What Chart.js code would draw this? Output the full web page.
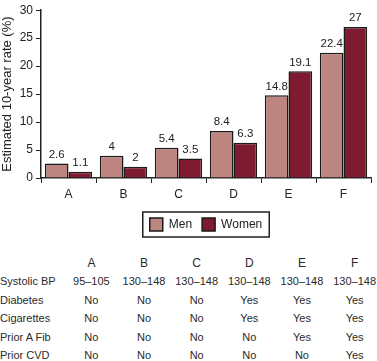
<!DOCTYPE html>
<html>
<head>
<meta charset="utf-8">
<script src="https://cdn.jsdelivr.net/npm/chart.js@4/dist/chart.umd.min.js"></script>
<style>
  html, body { margin: 0; padding: 0; background: #fff; }
  #wrap { position: relative; width: 377px; height: 361px; overflow: hidden; }
  #chartBox { position: absolute; left: 0; top: 0; width: 377px; height: 245px; }
  #riskTable {
    position: absolute; left: 0; top: 254px;
    border-collapse: collapse; table-layout: fixed; width: 381px;
    font-family: "Liberation Sans", Arial, sans-serif; font-size: 11px; color: #2a2a2a;
  }
  #riskTable td { padding: 0; height: 18.4px; line-height: 18.4px; text-align: center; white-space: nowrap; }
  #riskTable tr:first-child td { font-size: 12px; }
  #riskTable td.rowLabel { text-align: left; }
</style>
</head>
<body>
<div id="wrap">
  <div id="chartBox"><canvas id="riskChart"></canvas></div>
  <table id="riskTable">
    <colgroup>
      <col style="width:65px"><col style="width:52.6px"><col style="width:52.6px"><col style="width:52.6px">
      <col style="width:52.6px"><col style="width:52.6px"><col style="width:52.6px">
    </colgroup>
    <tbody id="riskBody"></tbody>
  </table>
</div>
<script>
// ====================
// DATOS
// ====================
const categories = ['A', 'B', 'C', 'D', 'E', 'F'];
const menRates = [2.6, 4, 5.4, 8.4, 14.8, 22.4];
const womenRates = [1.1, 2, 3.5, 6.3, 19.1, 27];

const rowLabels = ['Systolic BP', 'Diabetes', 'Cigarettes', 'Prior A Fib', 'Prior CVD'];
const systolicBP = ['95–105', '130–148', '130–148', '130–148', '130–148', '130–148'];
const diabetes = ['No', 'No', 'No', 'Yes', 'Yes', 'Yes'];
const cigarettes = ['No', 'No', 'No', 'Yes', 'Yes', 'Yes'];
const priorAFib = ['No', 'No', 'No', 'No', 'Yes', 'Yes'];
const priorCVD = ['No', 'No', 'No', 'No', 'No', 'Yes'];

const FONT = '"Liberation Sans", Arial, sans-serif';
const INK = '#222';

// valores encima de cada barra
const valueLabels = {
    id: 'valueLabels',
    afterDatasetsDraw(chart) {
        const ctx = chart.ctx;
        ctx.save();
        ctx.font = '11.5px ' + FONT;
        ctx.fillStyle = INK;
        ctx.textAlign = 'center';
        ctx.textBaseline = 'bottom';
        chart.data.datasets.forEach(function(ds, i) {
            chart.getDatasetMeta(i).data.forEach(function(bar, j) {
                ctx.fillText(String(ds.data[j]), bar.x, bar.y - 3);
            });
        });
        ctx.restore();
    }
};

// leyenda centrada bajo el área del gráfico, con marco
const legendFrame = {
    id: 'legendFrame',
    afterLayout(chart) {
        const lg = chart.legend;
        if (!lg) return;
        const shift = (chart.chartArea.left + chart.chartArea.right) / 2 - (lg.left + lg.right) / 2;
        lg.left += shift;
        lg.right += shift;
    },
    afterDraw(chart) {
        const boxes = chart.legend && chart.legend.legendHitBoxes;
        if (!boxes || !boxes.length) return;
        let x1 = Infinity, y1 = Infinity, x2 = -Infinity, y2 = -Infinity;
        boxes.forEach(function(b) {
            x1 = Math.min(x1, b.left);
            y1 = Math.min(y1, b.top);
            x2 = Math.max(x2, b.left + b.width);
            y2 = Math.max(y2, b.top + b.height);
        });
        const ctx = chart.ctx;
        ctx.save();
        ctx.strokeStyle = INK;
        ctx.lineWidth = 1.5;
        ctx.strokeRect(x1 - 7, y1 - 6, (x2 - x1) + 14, (y2 - y1) + 12);
        ctx.restore();
    }
};

new Chart(document.getElementById('riskChart'), {
    type: 'bar',
    data: {
        labels: categories,
        datasets: [{
            label: 'Men',
            data: menRates,
            backgroundColor: '#bc857f',
            borderColor: '#1a1a1a',
            borderWidth: 1.5
        }, {
            label: 'Women',
            data: womenRates,
            backgroundColor: '#7e1b30',
            borderColor: '#1a1a1a',
            borderWidth: 1.5
        }]
    },
    options: {
        responsive: true,
        maintainAspectRatio: false,
        animation: false,
        categoryPercentage: 0.86,
        barPercentage: 1.0,
        layout: { padding: { top: 0, right: 6, bottom: 4, left: 0 } },
        scales: {
            x: {
                border: { color: INK, width: 1.5 },
                grid: { drawOnChartArea: false, tickLength: 5, color: INK, lineWidth: 1 },
                ticks: { color: INK, font: { family: FONT, size: 12 }, padding: 4 },
                afterFit: function(scale) { scale.height = 30; }
            },
            y: {
                min: 0,
                max: 30,
                border: { color: INK, width: 1.5 },
                grid: { drawOnChartArea: false, tickLength: 5, color: INK, lineWidth: 1 },
                ticks: { stepSize: 5, color: INK, font: { family: FONT, size: 12 }, padding: 3 },
                title: {
                    display: true,
                    text: 'Estimated 10-year rate (%)',
                    color: INK,
                    font: { family: FONT, size: 13 },
                    padding: { top: 0, bottom: 2 }
                },
                afterFit: function(scale) { scale.width = 41; }
            }
        },
        plugins: {
            legend: {
                position: 'bottom',
                labels: {
                    color: INK,
                    font: { family: FONT, size: 12 },
                    boxWidth: 13,
                    boxHeight: 13,
                    padding: 10
                }
            },
            tooltip: { enabled: false }
        }
    },
    plugins: [valueLabels, legendFrame]
});

// ====================
// TABLA
// ====================
const tbody = document.getElementById('riskBody');
function addRow(label, cells) {
    const tr = document.createElement('tr');
    const th = document.createElement('td');
    th.className = 'rowLabel';
    th.textContent = label;
    tr.appendChild(th);
    cells.forEach(function(c) {
        const td = document.createElement('td');
        td.textContent = c;
        tr.appendChild(td);
    });
    tbody.appendChild(tr);
}
addRow('', categories);
[systolicBP, diabetes, cigarettes, priorAFib, priorCVD].forEach(function(row, i) {
    addRow(rowLabels[i], row);
});
</script>
</body>
</html>
